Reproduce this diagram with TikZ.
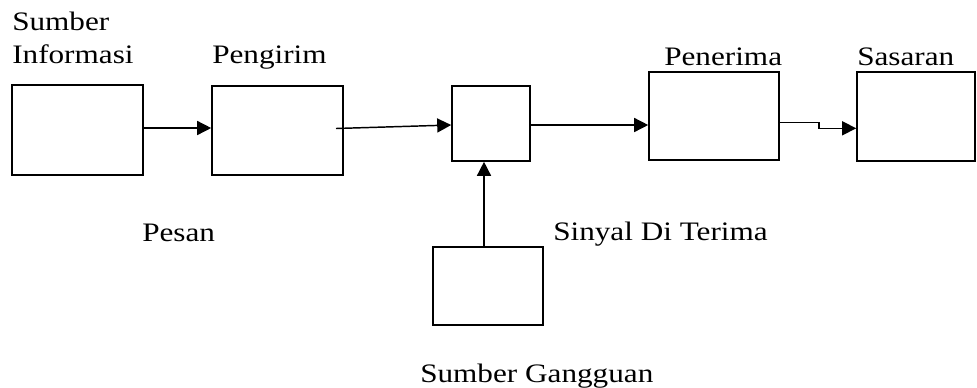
\documentclass[tikz,border=0pt]{standalone}
\usepackage{fontspec}
\newfontfamily\lblfont{Liberation Serif}[FakeStretch=1.17]
\usetikzlibrary{arrows.meta,calc}

\tikzset{
  blok/.style={draw=black, line width=1.2pt, rectangle, inner sep=0pt},
  arr/.style={line width=1.1pt, -{Triangle[length=10.5pt,width=10.5pt]}},
  lbl/.style={anchor=base west, inner sep=0pt, font=\lblfont\fontsize{20pt}{25pt}\selectfont}
}

\begin{document}
\begin{tikzpicture}[x=0.75pt, y=-0.75pt]
  \useasboundingbox (0,0) rectangle (977,387);

  % blocks
  \node[blok, minimum width=131*0.75pt, minimum height=90*0.75pt] (b1) at (77.5,130) {};
  \node[blok, minimum width=131*0.75pt, minimum height=89*0.75pt] (b2) at (277.5,130.5) {};
  \node[blok, minimum width=78*0.75pt,  minimum height=75*0.75pt] (b3) at (491,123.5) {};
  \node[blok, minimum width=130*0.75pt, minimum height=88*0.75pt] (b4) at (714,116) {};
  \node[blok, minimum width=118*0.75pt, minimum height=89*0.75pt] (b5) at (916,116.5) {};
  \node[blok, minimum width=110*0.75pt, minimum height=78*0.75pt] (b6) at (488,286) {};

  % labels
  \node[lbl] (t1a) at (12,30) {Sumber};
  \node[lbl] (t1b) at (12,63) {Informasi};
  \node[lbl] (t2) at (212,63) {Pengirim};
  \node[lbl] (t4) at (664,65) {Penerima};
  \node[lbl] (t5) at (857,65) {Sasaran};
  \node[lbl] (t6) at (142,241) {Pesan};
  \node[lbl] (t7) at (553,240) {Sinyal Di Terima};
  \node[lbl] (t8) at (420,382) {Sumber Gangguan};

  % helper points
  \coordinate (s2) at (336,128.5);
  \coordinate (h3) at (0,125);
  \coordinate (k1) at (819,122.7);
  \coordinate (k2) at (819,128.3);
  \coordinate (u) at (484,0);

  % connectors
  \draw[arr] (b1.east |- 0,128) -- (b2.west |- 0,128);
  \draw[arr] (s2) -- (b3.west |- h3);
  \draw[arr] (b3.east |- h3) -- (b4.west |- h3);
  \draw[arr] (k1 -| b4.east) -- (k1) -- (k2) -- (k2 -| b5.west);
  \draw[arr] (b6.north -| u) -- (b3.south -| u);
\end{tikzpicture}
\end{document}
